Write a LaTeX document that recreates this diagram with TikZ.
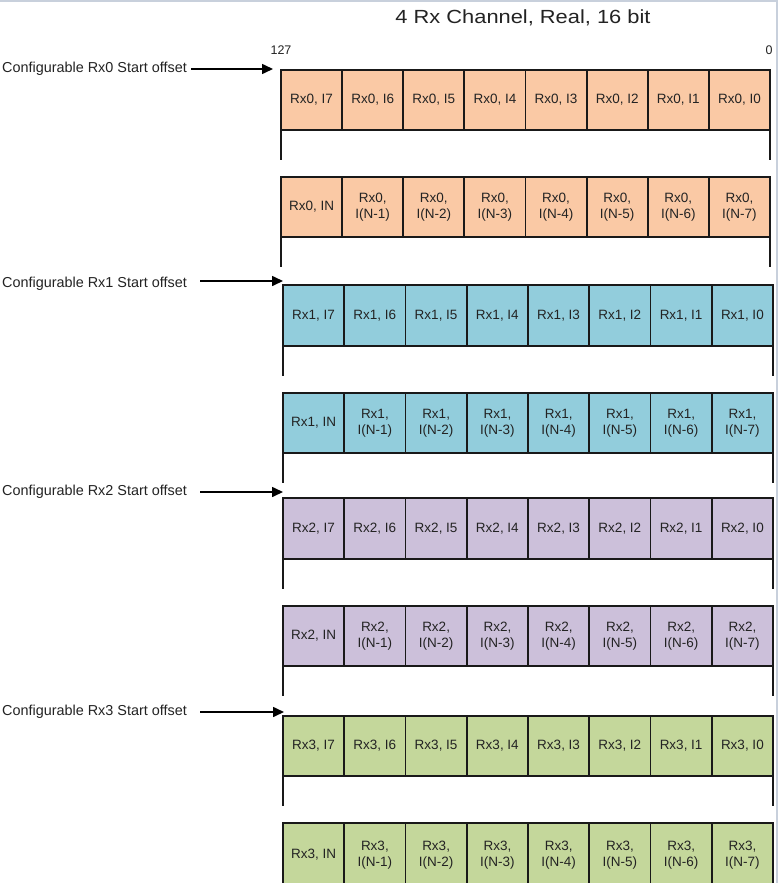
\documentclass[tikz,border=0pt]{standalone}
\usepackage{fontspec}
\setmainfont{Liberation Sans}
\newfontfamily\titlefont[FakeStretch=1.15]{Liberation Sans}
\usetikzlibrary{arrows.meta}
\definecolor{cPeach}{RGB}{250,201,165}
\definecolor{cBlue}{RGB}{146,205,220}
\definecolor{cLav}{RGB}{204,192,218}
\definecolor{cGreen}{RGB}{196,215,155}
\definecolor{lineC}{RGB}{25,25,25}
\definecolor{textC}{RGB}{35,35,35}
\definecolor{frameC}{RGB}{200,208,220}
\tikzset{
  cell/.style={draw=lineC, line width=1.8pt, inner sep=0pt, outer sep=0pt, anchor=north west,
    font=\fontsize{13.5}{15.5}\selectfont, align=center, text=textC},
  bar/.style={draw=lineC, line width=1.8pt},
  lbl/.style={anchor=west, inner sep=0pt, text=textC, font=\fontsize{14.4}{16}\selectfont},
  ptr/.style={draw=black, line width=1.6pt, -{Triangle[length=11pt,width=10pt]}},
}
\newcommand\rxgroup[8]{%
  \pgfmathsetmacro\cw{(#3-#2)/8}%
  \pgfmathsetmacro\hA{#5-#4}%
  \pgfmathsetmacro\hB{#7-#6}%
  \foreach \k in {0,...,7}{%
    \pgfmathtruncatemacro\lab{7-\k}%
    \node[cell, fill=#8, minimum width=\cw pt, minimum height=\hA pt] (g#1a\k) at ({#2+\k*\cw},#4) {Rx#1, I\lab};
  }%
  \node[cell, fill=#8, minimum width=\cw pt, minimum height=\hB pt] (g#1b0) at (#2,#6) {Rx#1, IN};
  \foreach \k in {1,...,7}{%
    \node[cell, fill=#8, minimum width=\cw pt, minimum height=\hB pt] (g#1b\k) at ({#2+\k*\cw},#6) {Rx#1,\\I(N-\k)};
  }%
  \draw[bar] (g#1a0.south west) -- ++(0,30);
  \draw[bar] (g#1a7.south east) -- ++(0,30);
  \draw[bar] (g#1b0.south west) -- ++(0,30);
  \draw[bar] (g#1b7.south east) -- ++(0,30);
}
\begin{document}
\begin{tikzpicture}[x=1pt,y=-1pt]
  \useasboundingbox[fill=white] (0,0) rectangle (778,883);
  % screenshot frame
  \draw[frameC, line width=2pt] (0,1) -- (777,1) -- (777,883);
  % title and bit numbers
  \node[text=textC, font=\titlefont\fontsize{19}{22}\selectfont] (title) at (523,18) {4 Rx Channel, Real, 16 bit};
  \node[text=textC, font=\fontsize{12.5}{14}\selectfont] (n127) at (281,50) {127};
  \node[text=textC, font=\fontsize{12.5}{14}\selectfont] (n0) at (769,50) {0};
  % groups
  \rxgroup{0}{281}{770}{70}{130}{177}{237}{cPeach}
  \rxgroup{1}{283}{773}{285}{346}{393}{453}{cBlue}
  \rxgroup{2}{283}{773}{498}{559}{606}{666}{cLav}
  \rxgroup{3}{283}{773}{716}{776}{823}{887}{cGreen}
  % labels and pointers
  \node[lbl] (l0) at (2,69) {Configurable Rx0 Start offset};
  \node[lbl] (l1) at (2,284) {Configurable Rx1 Start offset};
  \node[lbl] (l2) at (2,492) {Configurable Rx2 Start offset};
  \node[lbl] (l3) at (2,712) {Configurable Rx3 Start offset};
  \coordinate (s0) at (191,69);  \coordinate (t0) at (273,69);
  \coordinate (s1) at (200,281); \coordinate (t1) at (283,281);
  \coordinate (s2) at (200,492); \coordinate (t2) at (283,492);
  \coordinate (s3) at (200,712); \coordinate (t3) at (284,712);
  \draw[ptr] (s0) -- (t0);
  \draw[ptr] (s1) -- (t1);
  \draw[ptr] (s2) -- (t2);
  \draw[ptr] (s3) -- (t3);
\end{tikzpicture}
\end{document}
